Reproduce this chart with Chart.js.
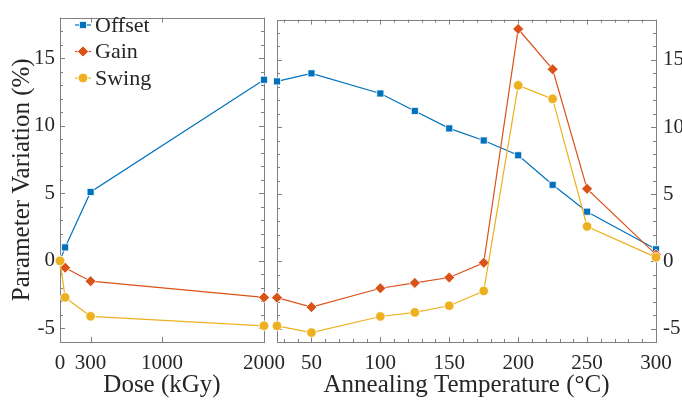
<!DOCTYPE html>
<html>
<head>
<meta charset="utf-8">
<script src="https://cdn.jsdelivr.net/npm/chart.js@4.4.1/dist/chart.umd.min.js"></script>
<style>
  html, body { margin: 0; padding: 0; background: #fff; }
  #wrap { position: relative; width: 682px; height: 402px; overflow: hidden; }
  canvas { position: absolute; top: 0; }
  #c-dose { left: 0; }
  #c-temp { left: 270px; }
</style>
</head>
<body>
<div id="wrap">
  <canvas id="c-dose" width="300" height="402"></canvas>
  <canvas id="c-temp" width="412" height="402"></canvas>
</div>
<script>
// --- DATA ---
const doseX      = [0, 50, 300, 2000];
const doseOffset = [0, 1.0, 5.1, 13.4];
const doseGain   = [0, -0.5, -1.5, -2.7];
const doseSwing  = [0, -2.7, -4.1, -4.8];

const tempX      = [25, 50, 100, 125, 150, 175, 200, 225, 250, 300];
const tempOffset = [13.4, 14.0, 12.5, 11.2, 9.9, 9.0, 7.9, 5.7, 3.7, 0.9];
const tempGain   = [-2.7, -3.4, -2.0, -1.6, -1.2, -0.1, 17.3, 14.3, 5.4, 0.5];
const tempSwing  = [-4.8, -5.3, -4.1, -3.8, -3.3, -2.2, 13.1, 12.1, 2.6, 0.3];

const doseTicks = [0, 300, 1000, 2000];
const tempTicks = [50, 100, 150, 200, 250, 300];
const yTicks    = [-5, 0, 5, 10, 15];

// --- STYLE ---
const serif = '"Liberation Serif", "DejaVu Serif", serif';
const axisGray = '#808080';
const textColor = '#262626';
Chart.defaults.font.family = serif;
Chart.defaults.color = textColor;

const series = [
  { label: 'Offset', color: '#0072BD', style: 'rect',    r: 5,   order: 3 },
  { label: 'Gain',   color: '#D95319', style: 'rectRot', r: 5.5, order: 2 },
  { label: 'Swing',  color: '#EDB120', style: 'circle',  r: 4.8, order: 1 }
];

const mkSets = (xs, ys) => series.map((s, k) => ({
  label: s.label,
  data: xs.map((x, i) => ({ x, y: ys[k][i] })),
  borderColor: s.color, backgroundColor: s.color,
  borderWidth: 1.2, pointStyle: s.style, pointRadius: s.r,
  pointBackgroundColor: s.color, pointBorderColor: '#ffffff', pointBorderWidth: 0.8,
  order: s.order, clip: false, tension: 0
}));

const fixTicks = vals => scale => { scale.ticks = vals.map(v => ({ value: v })); };
const plain = v => String(v);

// inward ticks + box, like the original axes
const frameTicks = (xMajor, xMinor) => ({
  id: 'frameTicks',
  beforeDatasetsDraw(chart) {
    const { ctx, chartArea: a, scales: { x, y } } = chart;
    ctx.save();
    ctx.strokeStyle = axisGray;
    ctx.lineWidth = 1;
    ctx.beginPath();
    const tx = (v, len) => {
      const p = Math.round(x.getPixelForValue(v)) + 0.5;
      ctx.moveTo(p, a.bottom); ctx.lineTo(p, a.bottom - len);
      ctx.moveTo(p, a.top); ctx.lineTo(p, a.top + len);
    };
    const ty = (v, len) => {
      const p = Math.round(y.getPixelForValue(v)) + 0.5;
      ctx.moveTo(a.left, p); ctx.lineTo(a.left + len, p);
      ctx.moveTo(a.right, p); ctx.lineTo(a.right - len, p);
    };
    xMajor.forEach(v => tx(v, 5));
    xMinor.forEach(v => tx(v, 3));
    for (let v = -6; v <= 18; v++) ty(v, yTicks.includes(v) ? 5 : 3);
    ctx.stroke();
    ctx.strokeRect(Math.round(a.left) + 0.5, Math.round(a.top) + 0.5,
                   Math.round(a.right - a.left), Math.round(a.bottom - a.top));
    ctx.restore();
  }
});

// legend in the upper left of the dose panel
const boxLegend = {
  id: 'boxLegend',
  afterDatasetsDraw(chart) {
    const ctx = chart.ctx;
    ctx.save();
    ctx.font = '22px ' + serif;
    ctx.textBaseline = 'middle';
    series.forEach((s, i) => {
      const y = 25 + i * 26.5;
      ctx.strokeStyle = s.color; ctx.lineWidth = 1.2;
      ctx.beginPath(); ctx.moveTo(75, y); ctx.lineTo(91, y); ctx.stroke();
      ctx.fillStyle = s.color; ctx.strokeStyle = '#ffffff'; ctx.lineWidth = 0.8;
      Chart.helpers.drawPoint(ctx, { pointStyle: s.style, radius: s.r, rotation: 0, borderWidth: 0.8 }, 83, y);
      ctx.fillStyle = textColor;
      ctx.fillText(s.label, 95, y + 1);
    });
    ctx.restore();
  }
};

const tickFont = { size: 21, family: serif };
const titleFont = { size: 25, family: serif };

new Chart(document.getElementById('c-dose'), {
  type: 'line',
  data: { datasets: mkSets(doseX, [doseOffset, doseGain, doseSwing]) },
  options: {
    responsive: false, animation: false,
    layout: { autoPadding: false, padding: { top: 7, right: 36, left: 0, bottom: 0 } },
    plugins: { legend: { display: false }, tooltip: { enabled: false } },
    scales: {
      x: {
        type: 'linear', min: 0, max: 2000,
        afterBuildTicks: fixTicks(doseTicks),
        afterFit: s => { s.height = 60; },
        grid: { display: false, drawTicks: false }, border: { display: false },
        ticks: { font: tickFont, color: textColor, padding: 9, maxRotation: 0, autoSkip: false, callback: plain },
        title: { display: true, text: 'Dose (kGy)', font: titleFont, color: textColor, padding: { top: 2, bottom: 2 } }
      },
      y: {
        min: -6, max: 18,
        afterBuildTicks: fixTicks(yTicks),
        afterFit: s => { s.width = 60; },
        grid: { display: false, drawTicks: false }, border: { display: false },
        ticks: { font: tickFont, color: textColor, padding: 5, callback: plain },
        title: { display: true, text: 'Parameter Variation (%)', font: titleFont, color: textColor, padding: { top: 7, bottom: 0 } }
      }
    }
  },
  plugins: [frameTicks(doseTicks, []), boxLegend]
});

const tempMinor = [];
for (let v = 30; v < 300; v += 10) if (!tempTicks.includes(v)) tempMinor.push(v);

new Chart(document.getElementById('c-temp'), {
  type: 'line',
  data: { datasets: mkSets(tempX, [tempOffset, tempGain, tempSwing]) },
  options: {
    responsive: false, animation: false,
    layout: { autoPadding: false, padding: { top: 7, right: 0, left: 7, bottom: 0 } },
    plugins: { legend: { display: false }, tooltip: { enabled: false } },
    scales: {
      x: {
        type: 'linear', min: 25, max: 300,
        afterBuildTicks: fixTicks(tempTicks),
        afterFit: s => { s.height = 60; },
        grid: { display: false, drawTicks: false }, border: { display: false },
        ticks: { font: tickFont, color: textColor, padding: 9, maxRotation: 0, autoSkip: false, callback: plain },
        title: { display: true, text: 'Annealing Temperature (°C)', font: titleFont, color: textColor, padding: { top: 2, bottom: 2 } }
      },
      y: {
        position: 'right', min: -6, max: 18,
        afterBuildTicks: fixTicks(yTicks),
        afterFit: s => { s.width = 26; },
        grid: { display: false, drawTicks: false }, border: { display: false },
        ticks: { font: tickFont, color: textColor, padding: 7, callback: plain }
      }
    }
  },
  plugins: [frameTicks(tempTicks, tempMinor)]
});
</script>
</body>
</html>
